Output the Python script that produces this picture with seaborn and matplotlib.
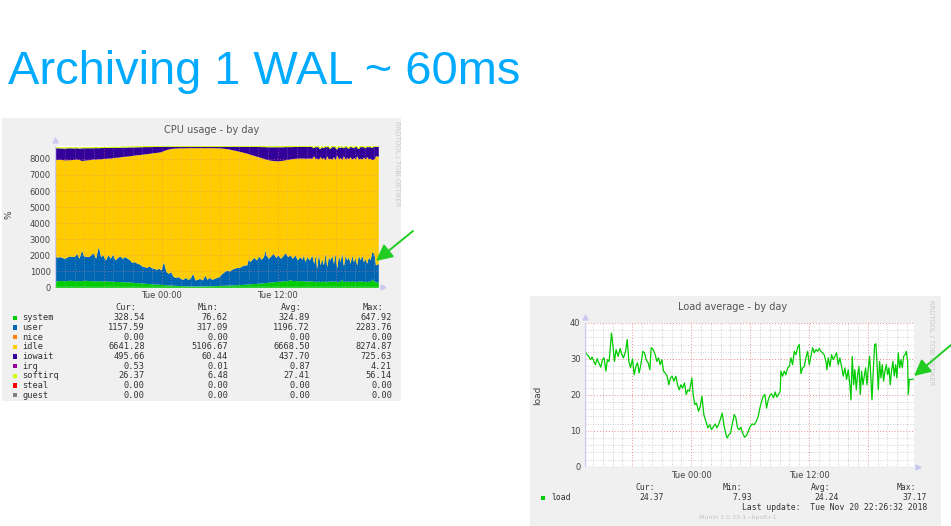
import numpy as np
import matplotlib
matplotlib.use("Agg")
import matplotlib.pyplot as plt
from matplotlib.ticker import MultipleLocator, FuncFormatter, NullLocator
from matplotlib.patches import Rectangle
import seaborn as sns

sns.set_style("white")
plt.rcParams['font.family'] = ['DejaVu Sans']

W, H = 951, 526

slide_title = "Archiving 1 WAL ~ 60ms"

# ---------------- CPU usage (stack boundaries) ----------------
# hours relative to Tue 00:00
cpu_hours = [
    -11.03, -10.86, -10.55, -10.07, -9.55, -9.07, -8.79, -8.55, -8.28, -8.07,
    -7.55, -7.07, -6.83, -6.55, -6.31, -6.07, -5.83, -5.55, -5.31, -5.07,
    -4.83, -4.55, -4.31, -4.07, -3.83, -3.55, -3.31, -3.07, -2.83, -2.55,
    -2.31, -2.07, -1.83, -1.55, -1.31, -1.07, -0.83, -0.55, -0.31, -0.07,
    0.17, 0.45, 0.69, 0.93, 1.21, 1.45, 1.69, 1.93, 2.21, 2.45,
    2.69, 2.93, 3.21, 3.45, 3.69, 3.93, 4.21, 4.45, 4.69, 4.93,
    5.21, 5.45, 5.69, 5.93,
    6.24, 6.48, 6.76, 7.0, 7.24, 7.48, 7.79, 8.0, 8.28, 8.52,
    8.79, 8.97, 9.1, 9.28, 9.52, 9.79, 10.03, 10.28, 10.52, 10.69,
    10.79, 11.03, 11.28, 11.52, 11.79, 12.03, 12.28, 12.52, 12.79, 13.03,
    13.28, 13.52, 13.79, 14.03, 14.28, 14.52, 14.66, 14.79, 15.03, 15.28,
    15.52, 15.72, 15.86, 16.03, 16.21, 16.38, 16.55, 16.72, 16.9, 17.07,
    17.24, 17.41, 17.59, 17.76, 17.93, 18.1, 18.28, 18.45, 18.62, 18.79,
    18.97, 19.14, 19.31, 19.48, 19.66, 19.83, 20.0, 20.17, 20.34, 20.52,
    20.69, 20.86, 21.03, 21.21, 21.38, 21.55, 21.72, 21.9, 22.0, 22.1,
    22.3, 22.4]

# top of the system layer
cpu_system_top = [
    420, 400, 430, 410, 440, 420, 400, 430, 410, 440,
    420, 410, 390, 420, 400, 380, 410, 390, 370, 390,
    360, 370, 350, 360, 340, 330, 340, 310, 300, 290,
    280, 270, 260, 240, 230, 220, 210, 200, 190, 180,
    170, 160, 150, 140, 130, 120, 115, 110, 100, 95,
    90, 85, 85, 80, 80, 85, 85, 90, 95, 100,
    105, 110, 115, 120,
    125, 130, 135, 140, 150, 155, 160, 170, 180, 190,
    200, 210, 215, 225, 235, 245, 255, 270, 280, 290,
    300, 310, 330, 340, 360, 370, 380, 400, 410, 420,
    480, 420, 430, 410, 420, 400, 410, 380, 400, 390,
    410, 360, 400, 320, 410, 350, 390, 340, 420, 330,
    400, 370, 410, 350, 420, 320, 400, 360, 500, 340,
    410, 370, 400, 350, 410, 360, 390, 340, 420, 370,
    410, 350, 390, 340, 400, 360, 520, 420, 400, 330,
    320, 330]

# top of the user layer
cpu_user_top = [
    2018, 1872, 1914, 1810, 1955, 1914, 2122, 1810, 2330, 1955,
    1914, 2163, 1810, 2580, 1914, 2018, 1706, 2018, 1810, 2080,
    1706, 1872, 1955, 1810, 1914, 1810, 1706, 1539, 1602, 1498,
    1456, 1331, 1290, 1248, 1331, 1227, 1186, 1123, 1186, 1082,
    1602, 978, 874, 978, 666, 624, 666, 562, 499, 624,
    499, 562, 874, 458, 499, 562, 458, 770, 499, 624,
    499, 562, 624, 666,
    874, 978, 1082, 1019, 1123, 1186, 1248, 1227, 1331, 1394,
    1394, 1810, 1602, 1706, 1872, 1706, 1955, 1747, 1914, 2330,
    2018, 1810, 1955, 2122, 1872, 2018, 1810, 1955, 2163, 1914,
    2018, 1810, 2018, 1706, 1914, 1747, 2080, 1602, 1914, 1706,
    2018, 1498, 2018, 1186, 2122, 1394, 1810, 1394, 2122, 1290,
    1914, 1706, 2018, 1498, 2122, 1186, 2018, 1602, 2163, 1331,
    2018, 1706, 1914, 1498, 2018, 1602, 1872, 1394, 2018, 1706,
    2018, 1602, 1810, 1498, 1914, 1706, 2226, 2122, 1955, 1394,
    1456, 1486]

# top of the idle layer (bottom of iowait)
cpu_idle_top = [
    7990, 7960, 7980, 7940, 7950, 7970, 7990, 7960, 7900, 7920,
    7950, 8000, 7980, 8010, 8000, 8040, 8030, 8060, 8050, 8080,
    8100, 8110, 8130, 8150, 8170, 8180, 8200, 8220, 8240, 8260,
    8270, 8290, 8310, 8330, 8350, 8370, 8390, 8410, 8430, 8450,
    8520, 8580, 8620, 8650, 8670, 8680, 8690, 8690, 8690, 8700,
    8700, 8700, 8700, 8700, 8700, 8700, 8700, 8700, 8700, 8700,
    8700, 8700, 8690, 8690,
    8680, 8660, 8640, 8610, 8580, 8550, 8510, 8480, 8440, 8400,
    8360, 8320, 8300, 8260, 8220, 8170, 8130, 8080, 8040, 8000,
    7980, 7950, 7920, 7900, 7890, 7880, 7900, 7920, 7950, 7970,
    8000, 8020, 8040, 8050, 8060, 8050, 8060, 8040, 8050, 8060,
    8040, 8200, 8030, 8050, 7980, 8150, 8000, 8100, 7950, 8200,
    8000, 8050, 7980, 8150, 7960, 8250, 8000, 8100, 7960, 8200,
    7980, 8100, 8000, 8150, 7980, 8100, 8000, 8200, 7990, 8050,
    7980, 8120, 8000, 8150, 8000, 8050, 7950, 7990, 8020, 8200,
    8180, 8170]

# top of the whole stack (iowait + irq + softirq on top)
cpu_total_top = [
    8690, 8700, 8690, 8680, 8700, 8690, 8700, 8680, 8690, 8700,
    8700, 8700, 8710, 8700, 8710, 8710, 8720, 8710, 8720, 8720,
    8730, 8720, 8730, 8740, 8740, 8740, 8750, 8750, 8750, 8760,
    8760, 8760, 8770, 8770, 8770, 8770, 8780, 8780, 8780, 8780,
    8790, 8790, 8790, 8790, 8790, 8790, 8790, 8790, 8790, 8790,
    8790, 8790, 8790, 8790, 8790, 8790, 8790, 8790, 8790, 8790,
    8790, 8790, 8790, 8790,
    8790, 8790, 8790, 8790, 8790, 8790, 8790, 8790, 8790, 8790,
    8780, 8780, 8780, 8780, 8780, 8780, 8780, 8770, 8770, 8770,
    8760, 8760, 8760, 8760, 8760, 8760, 8760, 8760, 8770, 8770,
    8770, 8770, 8780, 8780, 8780, 8780, 8780, 8780, 8780, 8780,
    8780, 8700, 8780, 8760, 8780, 8640, 8780, 8700, 8780, 8760,
    8780, 8650, 8780, 8760, 8780, 8620, 8780, 8720, 8780, 8700,
    8780, 8760, 8660, 8780, 8760, 8700, 8780, 8780, 8640, 8780,
    8760, 8780, 8700, 8780, 8760, 8780, 8720, 8780, 8790, 8800,
    8780, 8790]

cpu_names = ['system', 'user', 'nice', 'idle', 'iowait', 'irq', 'softirq', 'steal', 'guest']
cpu_colors = ['#00cc00', '#0066b3', '#ff8000', '#ffcc00', '#330099', '#990099', '#ccff00', '#ff0000', '#808080']
cpu_cur = [328.54, 1157.59, 0.00, 6641.28, 495.66, 0.53, 26.37, 0.00, 0.00]
cpu_min = [76.62, 317.09, 0.00, 5106.67, 60.44, 0.01, 6.48, 0.00, 0.00]
cpu_avg = [324.89, 1196.72, 0.00, 6668.50, 437.70, 0.87, 27.41, 0.00, 0.00]
cpu_max = [647.92, 2283.76, 0.00, 8274.87, 725.63, 4.21, 56.14, 0.00, 0.00]

# ---------------- Load average ----------------
load_hours = [
    -10.84, -10.67, -10.43, -10.26, -10.09, -9.92, -9.75, -9.58, -9.41, -9.21,
    -9.04, -8.87, -8.70, -8.53, -8.36, -8.12, -7.95, -7.82, -7.65, -7.44,
    -7.24, -7.07, -6.90, -6.69, -6.52, -6.35, -6.18, -5.98, -5.81, -5.64,
    -5.47, -5.30, -5.13, -4.93, -4.76, -4.59, -4.38, -4.21, -4.08, -3.87,
    -3.67, -3.50, -3.33, -3.16, -2.99, -2.82, -2.65, -2.45, -2.28, -2.11,
    -1.94, -1.77, -1.56, -1.39, -1.22, -1.05, -0.88, -0.68, -0.51, -0.34,
    -0.17, 0.07, 0.20, 0.37, 0.54, 0.75, 0.92, 1.09, 1.29, 1.50,
    1.70, 1.90, 2.07, 2.28, 2.45, 2.62, 2.79, 2.96, 3.16, 3.33,
    3.50, 3.67, 3.84, 4.01, 4.18, 4.38, 4.55, 4.72, 4.89, 5.06,
    5.23, 5.44,
    5.64, 5.81, 6.01, 6.22, 6.42, 6.63, 6.83, 7.00, 7.17, 7.34,
    7.51, 7.68, 7.85, 8.02, 8.19, 8.39, 8.56, 8.73, 8.90, 9.07,
    9.14, 9.31, 9.48, 9.65, 9.82, 9.99, 10.16, 10.33, 10.50, 10.67,
    10.84, 11.01, 11.18, 11.35, 11.52, 11.69, 11.86, 12.03, 12.20, 12.37,
    12.54, 12.71, 12.88, 13.05, 13.22, 13.39, 13.56, 13.73, 13.83, 13.96,
    14.14, 14.30, 14.47, 14.64, 14.81, 14.98, 15.15, 15.32, 15.49, 15.66,
    15.83, 16.00, 16.17, 16.28, 16.41, 16.55, 16.68, 16.82, 16.95, 17.09,
    17.23, 17.36, 17.50, 17.64, 17.77, 17.91, 18.04, 18.18, 18.31, 18.42,
    18.55, 18.69, 18.82, 18.96, 19.06, 19.20, 19.33, 19.47, 19.60, 19.74,
    19.88, 20.01, 20.15, 20.28, 20.42, 20.56, 20.69, 20.83, 20.96, 21.10,
    21.24, 21.37, 21.51, 21.64, 21.78, 21.92, 22.05, 22.12, 22.22, 22.46,
    22.63]

load_values = [
    32.4, 31.4, 30.7, 29.8, 30.5, 29.3, 28.4, 30.1, 28.9, 27.7,
    29.8, 30.3, 26.6, 29.8, 29.3, 37.2, 33.1, 29.3, 32.6, 30.7,
    32.9, 31.2, 30.3, 32.1, 35.4, 29.3, 27.5, 30.0, 25.6, 27.9,
    28.9, 26.1, 28.4, 32.1, 31.7, 29.8, 28.9, 27.0, 33.1, 32.6,
    31.2, 29.3, 30.3, 28.4, 29.8, 26.6, 26.1, 25.2, 22.8, 24.7,
    25.2, 23.8, 25.2, 22.8, 21.4, 22.8, 21.9, 23.3, 20.1, 21.4,
    21.0, 24.7, 20.1, 17.3, 17.7, 15.4, 16.8, 19.6, 14.5, 12.6,
    10.8, 11.7, 10.3, 11.2, 11.9, 10.8, 11.7, 13.1, 14.9, 11.7,
    9.4, 8.0, 8.9, 9.4, 11.7, 14.5, 13.6, 10.8, 10.3, 11.0,
    9.4, 8.2,
    8.7, 9.8, 11.2, 11.9, 11.7, 12.6, 14.0, 16.3, 18.2, 19.6,
    20.1, 16.3, 18.6, 19.9, 20.3, 19.2, 20.8, 19.4, 20.1, 21.0,
    26.6, 25.2, 26.6, 25.6, 27.5, 27.9, 30.3, 28.4, 32.1, 31.2,
    33.1, 34.0, 25.9, 27.5, 27.9, 30.3, 32.1, 28.4, 30.7, 33.1,
    31.7, 32.6, 32.1, 32.9, 32.1, 31.7, 31.1, 29.3, 27.0, 30.3,
    27.9, 31.2, 29.8, 30.7, 31.7, 28.4, 30.3, 27.9, 25.2, 27.5,
    24.3, 27.0, 22.8, 18.6, 30.7, 22.8, 27.0, 21.4, 25.6, 27.9,
    20.1, 26.6, 22.8, 25.2, 27.5, 22.8, 27.5, 30.7, 24.7, 18.6,
    26.6, 34.0, 34.2, 27.5, 21.4, 29.3, 24.7, 28.4, 23.8, 26.6,
    28.4, 25.6, 27.5, 22.8, 26.9, 29.3, 25.2, 28.4, 24.7, 31.7,
    27.5, 29.8, 27.5, 30.7, 31.2, 32.1, 29.3, 20.1, 24.3, 24.3,
    24.4]

load_stats = [('Cur:', 24.37), ('Min:', 7.93), ('Avg:', 24.24), ('Max:', 37.17)]
last_update = "Last update:  Tue Nov 20 22:26:32 2018"
munin_version = "Munin 2.0.33-1~bpo8+1"

# ---------------- figure ----------------
fig = plt.figure(figsize=(W / 100, H / 100), dpi=100)

# pixel-coordinate canvas for panels and text
bg = fig.add_axes([0, 0, 1, 1], zorder=0)
bg.set_xlim(0, W)
bg.set_ylim(H, 0)
bg.axis('off')
bg.add_patch(Rectangle((2, 118), 399, 283, color='#f0f0f0', lw=0))
bg.add_patch(Rectangle((530, 296), 411, 230, color='#f0f0f0', lw=0))

bg.text(8, 84, slide_title, fontsize=33.8, family='Liberation Sans',
        color='#00aaff', va='baseline', ha='left')


def px_axes(x0, y0, x1, y1):
    return fig.add_axes([x0 / W, 1 - y1 / H, (x1 - x0) / W, (y1 - y0) / H], zorder=1)


def munin_style(ax, xlim, ylim, ymajor, yminor, grid_alpha):
    ax.set_xlim(*xlim)
    ax.set_ylim(*ylim)
    ax.xaxis.set_major_locator(MultipleLocator(6))
    ax.xaxis.set_minor_locator(MultipleLocator(1))
    ax.yaxis.set_major_locator(MultipleLocator(ymajor))
    if yminor:
        ax.yaxis.set_minor_locator(MultipleLocator(yminor))
    else:
        ax.yaxis.set_minor_locator(NullLocator())
    ax.xaxis.set_major_formatter(FuncFormatter(
        lambda v, p: {0: 'Tue 00:00', 12: 'Tue 12:00'}.get(int(round(v)), '')))
    ax.grid(which='minor', color='#b8b8b8', ls=(0, (1, 2)), lw=0.6, alpha=grid_alpha)
    ax.grid(which='major', color='#ee8080', ls=(0, (1, 2)), lw=0.7, alpha=grid_alpha)
    ax.set_axisbelow(False)
    ax.tick_params(which='both', length=0, labelsize=6, colors='#444444', pad=3)
    for s in ax.spines.values():
        s.set_visible(False)
    ax.axhline(ylim[0], color='#c8c8f0', lw=1, zorder=4)
    ax.axvline(xlim[0], color='#c8c8f0', lw=1, zorder=4)
    ax.plot(0, 1.04, marker='^', ms=3.5, color='#c8c8f0', transform=ax.transAxes, clip_on=False)
    ax.plot(1.015, 0, marker='>', ms=3.5, color='#c8c8f0', transform=ax.transAxes, clip_on=False)
    ax.set_xlabel('')
    ax.set_ylabel('')


# ---- CPU chart ----
ax1 = px_axes(55, 146.1, 378.5, 287.3)
h = np.array(cpu_hours)
levels = [np.zeros_like(h), np.array(cpu_system_top), np.array(cpu_user_top),
          np.array(cpu_idle_top), np.array(cpu_total_top)]
band_colors = [cpu_colors[0], cpu_colors[1], cpu_colors[3], cpu_colors[4]]
for lo, hi, c in zip(levels[:-1], levels[1:], band_colors):
    ax1.fill_between(h, lo, hi, color=c, lw=0, zorder=1)
ax1.plot(h, levels[-1], color=cpu_colors[6], lw=0.8, zorder=2)
munin_style(ax1, (-11.03, 22.42), (0, 8800), 1000, None, 0.55)

bg.text(212, 130, 'CPU usage - by day', fontsize=7, color='#555555', ha='center', va='center')
bg.text(9, 215, '%', fontsize=6.5, color='#444444', rotation=90, ha='center', va='center')
bg.text(397, 164, 'RRDTOOL / TOBI OETIKER', fontsize=4.8, color='#c8c8c8',
        rotation=270, ha='center', va='center')

mono = dict(family='DejaVu Sans Mono', fontsize=6.2, color='#333333', va='center')
cols = [(115, 145, cpu_cur, 'Cur:'), (198, 228, cpu_min, 'Min:'),
        (281, 310, cpu_avg, 'Avg:'), (363, 392, cpu_max, 'Max:')]
for hx, vx, vals, head in cols:
    bg.text(hx, 308, head, ha='left', **mono)
for i, name in enumerate(cpu_names):
    y = 317.7 + i * 9.67
    bg.add_patch(Rectangle((12.5, y - 2.2), 4.4, 4.4, color=cpu_colors[i], lw=0))
    bg.text(22.5, y, name, ha='left', **mono)
    for hx, vx, vals, head in cols:
        bg.text(vx, y, f'{vals[i]:.2f}', ha='right', **mono)

# ---- Load chart ----
ax2 = px_axes(584.7, 323, 913.5, 466.7)
sns.lineplot(x=load_hours, y=load_values, ax=ax2, color='#00cc00', lw=0.9, zorder=3)
munin_style(ax2, (-10.85, 22.65), (0, 40), 10, 2, 0.9)

bg.text(733, 307, 'Load average - by day', fontsize=7, color='#555555', ha='center', va='center')
bg.text(538, 395, 'load', fontsize=6.5, color='#444444', rotation=90, ha='center', va='center')
bg.text(931, 343, 'RRDTOOL / TOBI OETIKER', fontsize=4.8, color='#c8c8c8',
        rotation=270, ha='center', va='center')

mono2 = dict(family='DejaVu Sans Mono', fontsize=5.9, color='#333333', va='center')
load_cols = [(635, 664), (723, 752), (811, 839), (897, 927)]
bg.add_patch(Rectangle((541, 495.5), 4.4, 4.4, color='#00cc00', lw=0))
bg.text(551, 497.7, 'load', ha='left', **mono2)
for (hx, vx), (head, val) in zip(load_cols, load_stats):
    bg.text(hx, 488, head, ha='left', **mono2)
    bg.text(vx, 497.7, f'{val:.2f}', ha='right', **mono2)
bg.text(927, 507.7, last_update, ha='right', **mono2)
bg.text(738, 517, munin_version, fontsize=4.5, color='#c4c4c4', ha='center', va='center')

# ---- green arrows on top ----
fg = fig.add_axes([0, 0, 1, 1], zorder=5)
fg.set_xlim(0, W)
fg.set_ylim(H, 0)
fg.axis('off')
arrow = dict(arrowstyle='-|>,head_length=0.9,head_width=0.45', color='#22cc22',
             lw=1.4, mutation_scale=11, shrinkA=0, shrinkB=0)
fg.annotate('', xy=(376, 261), xytext=(413, 231), arrowprops=arrow)
fg.annotate('', xy=(914, 376), xytext=(951, 345), arrowprops=arrow)

fig.savefig('out.png', dpi=100, facecolor='white')
